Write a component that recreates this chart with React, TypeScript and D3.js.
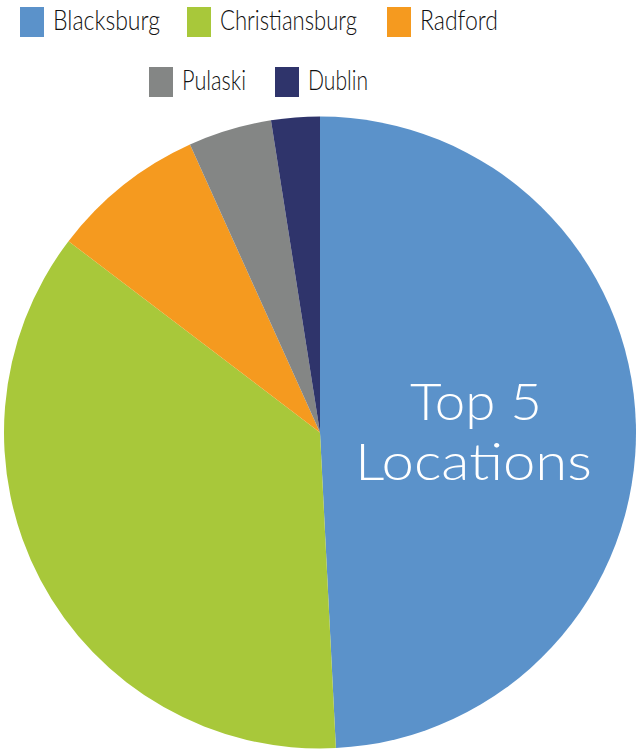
import React from "react";
import * as d3 from "d3";

const categories = ["Blacksburg", "Christiansburg", "Radford", "Pulaski", "Dublin"];
const values = [49.2, 36.15, 7.9, 4.27, 2.48];
const colors = ["#5B92CA", "#A8C83A", "#F59A1F", "#848685", "#2F346B"];
const centerLines = ["Top 5", "Locations"];

// legend layout (row, rect x, text width)
const legendRows = [0, 0, 0, 1, 1];
const legendX = [20, 187, 387, 149, 275];
const legendTextW = [107, 137, 78, 64, 60];

export default function App() {
  const W = 637, H = 751;
  const cx = 320, cy = 432.5, r = 316;
  const pie = d3.pie<number>().sort(null).value((d) => d)(values);
  const arc = d3.arc<d3.PieArcDatum<number>>().innerRadius(0).outerRadius(r);
  const font = "Lato, 'DejaVu Sans', sans-serif";
  return (
    <svg width={W} height={H} style={{ position: "absolute", left: 0, top: 0, background: "#fff" }}>
      <g transform={`translate(${cx},${cy})`}>
        {pie.map((p, i) => (
          <path key={categories[i]} d={arc(p) || ""} fill={colors[i]} />
        ))}
      </g>
      {categories.map((c, i) => {
        const y0 = legendRows[i] === 0 ? 7 : 67;
        return (
          <g key={c}>
            <rect x={legendX[i]} y={y0} width={24} height={30} fill={colors[i]} />
            <text
              x={legendX[i] + 33}
              y={y0 + 22.5}
              fontFamily={font}
              fontSize={27}
              fontWeight={300}
              fill="#111"
              textLength={legendTextW[i]}
              lengthAdjust="spacingAndGlyphs"
            >
              {c}
            </text>
          </g>
        );
      })}
      {centerLines.map((t, i) => (
        <text
          key={t}
          x={i === 0 ? 410 : 355}
          y={i === 0 ? 420 : 480}
          fontFamily={font}
          fontSize={52}
          fontWeight={300}
          fill="#fff"
          textLength={i === 0 ? 132 : 237}
          lengthAdjust="spacingAndGlyphs"
        >
          {t}
        </text>
      ))}
    </svg>
  );
}
